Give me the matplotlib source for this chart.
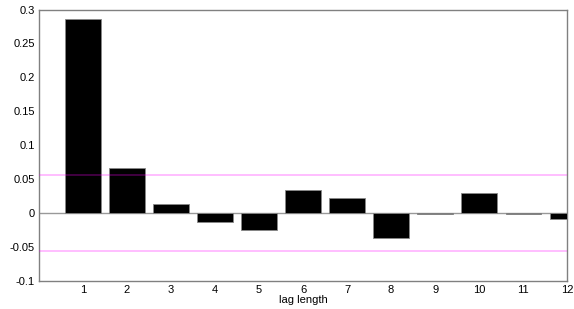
import matplotlib
matplotlib.use("Agg")
import matplotlib.pyplot as plt

lags = [1, 2, 3, 4, 5, 6, 7, 8, 9, 10, 11, 12]
acf = [0.286, 0.0665, 0.014, -0.0135, -0.0257, 0.0345, 0.0223, -0.0375, -0.0015, 0.0297, -0.001, -0.009]
band = 0.0566
yticks = [-0.1, -0.05, 0, 0.05, 0.1, 0.15, 0.2, 0.25, 0.3]
ylabels = ["-0.1", "-0.05", "0", "0.05", "0.1", "0.15", "0.2", "0.25", "0.3"]

plt.rcParams["font.family"] = ["Liberation Sans", "DejaVu Sans"]

fig = plt.figure(figsize=(5.74, 3.09), dpi=100)
ax = fig.add_axes([0.068, 0.091, 0.92, 0.878])

ax.axhline(0, color="#999999", linewidth=1, zorder=2)
ax.bar(lags, acf, width=0.8, color="black", edgecolor="#888888", linewidth=0.6, zorder=3)
# confidence band drawn over the bars, semi-transparent
ax.axhline(band, color="#ff00ff", alpha=0.3, linewidth=1.2, zorder=4)
ax.axhline(-band, color="#ff00ff", alpha=0.3, linewidth=1.2, zorder=4)

ax.set_xlim(0, 12)
ax.set_ylim(-0.1, 0.3)
ax.set_xticks(lags)
ax.set_xticklabels([str(l) for l in lags])
ax.set_yticks(yticks)
ax.set_yticklabels(ylabels)
ax.tick_params(length=0, labelsize=8, pad=3)
ax.set_xlabel("lag length", fontsize=8, labelpad=0)

for s in ax.spines.values():
    s.set_color("#808080")
    s.set_linewidth(1)

fig.savefig("out.png", dpi=100)
